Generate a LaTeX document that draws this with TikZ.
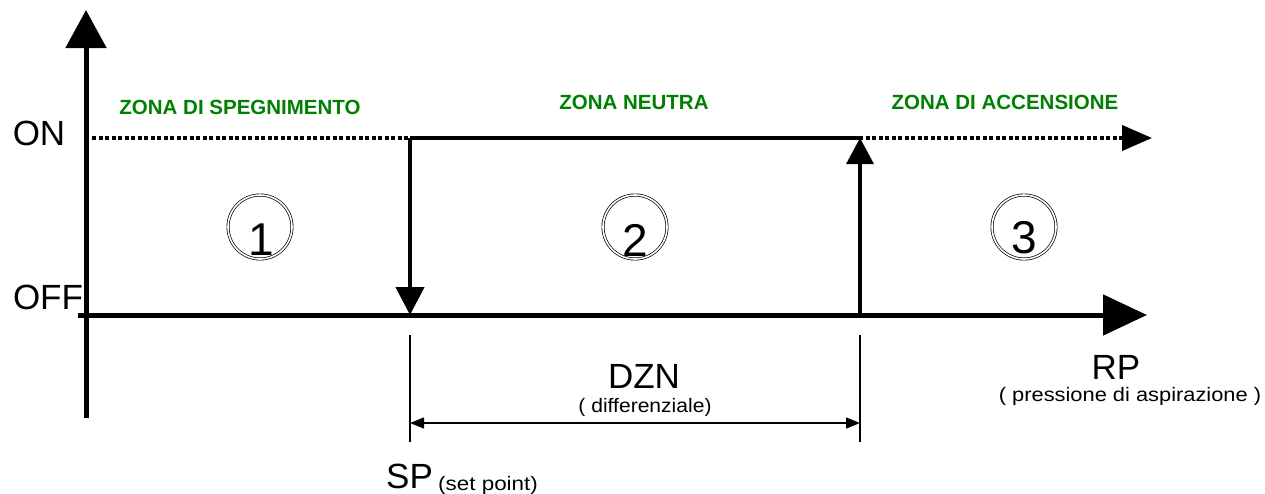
\documentclass[tikz,border=0pt]{standalone}
\usepackage{fontspec}
\setmainfont{Liberation Sans}
\usetikzlibrary{arrows.meta}
\definecolor{zgreen}{RGB}{0,128,0}
\begin{document}
\begin{tikzpicture}[x=1pt,y=-1pt,
  lbl/.style={inner sep=0pt,font=\fontsize{35}{40}\selectfont},
  small/.style={inner sep=0pt,font=\fontsize{19.5}{22}\selectfont},
  zone/.style={inner sep=0pt,text=zgreen,font=\bfseries\fontsize{20.5}{24}\selectfont},
  digit/.style={inner sep=0pt,font=\fontsize{46}{50}\selectfont},
  ring/.style={draw,double,double distance=1.6pt,line width=0.7pt,circle,minimum size=64pt,inner sep=0pt},
  axis/.style={line width=5pt},
  dimline/.style={line width=1.4pt}]
\useasboundingbox (0,0) rectangle (1265,493);
% coordinates
\coordinate (ytop) at (86,10);
\coordinate (ybot) at (86,418);
\coordinate (xl) at (78,315);
\coordinate (xr) at (1147,315);
\coordinate (onl) at (92,138);
\coordinate (onr) at (1152,138);
\coordinate (spOn) at (410,138);
\coordinate (spOff) at (410,315);
\coordinate (dzOn) at (860,138);
\coordinate (dzOff) at (860,315);
\coordinate (spT) at (410,335);
\coordinate (spB) at (410,442);
\coordinate (dzT) at (860,335);
\coordinate (dzB) at (860,442);
\coordinate (spD) at (410,423);
\coordinate (dzD) at (860,423);
% axes
\draw[axis,-{Triangle[length=38pt,width=40pt]}] (ybot) -- (ytop);
\draw[axis,-{Triangle[length=44pt,width=40pt]}] (xl) -- (xr);
% ON dotted line
\draw[line width=4pt,dash pattern=on 4pt off 2.5pt,-{Triangle[length=30pt,width=25pt]}] (onl) -- (onr);
\draw[line width=3.5pt] (spOn) -- (dzOn);
% transitions
\draw[line width=4.5pt,-{Triangle[length=28pt,width=28pt]}] (spOn) -- (spOff);
\draw[line width=3.5pt,-{Triangle[length=26pt,width=27pt]}] (dzOff) -- (dzOn);
% dimension
\draw[dimline] (spT) -- (spB);
\draw[dimline] (dzT) -- (dzB);
\draw[dimline,{Triangle[length=14pt,width=11pt]}-{Triangle[length=14pt,width=11pt]}] (spD) -- (dzD);
% labels
\node[lbl] (on) at (39,133) {ON};
\node[lbl] (off) at (48,297) {OFF};
\node[lbl] (dzn) at (644,376) {DZN};
\node[small] (diff) at (645,407) {\scalebox{1.08}[1]{( differenziale)}};
\node[lbl,anchor=west] (sp) at (386,476) {SP};
\node[small,anchor=west] (spt) at (438,485) {\scalebox{1.15}[1]{(set point)}};
\node[lbl] (rp) at (1116,367) {RP};
\node[small] (rpt) at (1130,396) {\scalebox{1.12}[1]{( pressione di aspirazione )}};
% zones
\node[zone] (z1) at (240,107) {ZONA DI SPEGNIMENTO};
\node[zone] (z2) at (634,102) {ZONA NEUTRA};
\node[zone] (z3) at (1005,102) {ZONA DI ACCENSIONE};
% circled numbers
\node[ring] (c1) at (260,227) {};
\node[ring] (c2) at (635,227) {};
\node[ring] (c3) at (1024,227) {};
\node[digit] (d1) at (261,240) {1};
\node[digit] (d2) at (635,240) {2};
\node[digit] (d3) at (1024,238) {3};
\end{tikzpicture}
\end{document}
